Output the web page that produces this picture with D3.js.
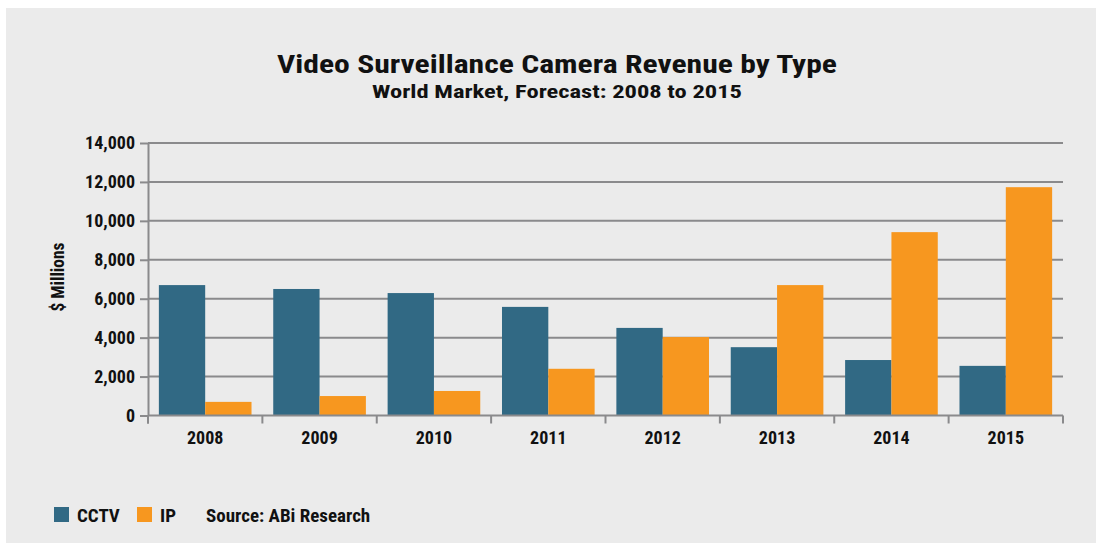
<!DOCTYPE html>
<html>
<head>
<meta charset="utf-8">
<script src="https://cdn.jsdelivr.net/npm/d3@7"></script>
<style>
  html, body { margin: 0; padding: 0; background: #ffffff; }
  svg { display: block; }
  text { font-family: "Liberation Sans Narrow", "Roboto Condensed", "Liberation Sans", Arial, sans-serif; font-weight: bold; fill: #111; }
</style>
</head>
<body>
<svg id="chart" width="1099" height="543"></svg>
<script>
const years = ["2008", "2009", "2010", "2011", "2012", "2013", "2014", "2015"];
const seriesNames = ["CCTV", "IP"];
const cctv = [6700, 6500, 6290, 5580, 4500, 3510, 2850, 2550];
const ip = [700, 1000, 1260, 2400, 4030, 6700, 9420, 11730];
const yTicks = [0, 2000, 4000, 6000, 8000, 10000, 12000, 14000];
const colors = ["#316984", "#f7971f"];

const svg = d3.select("#chart");
svg.append("rect").attr("x", 6).attr("y", 8).attr("width", 1090).attr("height", 535).attr("fill", "#ebebeb");

const pLeft = 148, pRight = 1063, pTop = 143, pBottom = 415.5;
const x = d3.scaleBand().domain(years).range([pLeft, pRight]).paddingInner(0.19).paddingOuter(0.095);
const xs = d3.scaleBand().domain(seriesNames).range([0, x.bandwidth()]);
const y = d3.scaleLinear().domain([0, 14000]).range([pBottom, pTop]);

// gridlines
svg.append("g").selectAll("line").data(yTicks.filter(d => d > 0)).join("line")
  .attr("x1", pLeft).attr("x2", pRight)
  .attr("y1", d => y(d)).attr("y2", d => y(d))
  .attr("stroke", "#8a8a8c").attr("stroke-width", 2);

// bars
const data = years.map((yr, i) => ({ year: yr, vals: [cctv[i], ip[i]] }));
const groups = svg.append("g").selectAll("g").data(data).join("g")
  .attr("transform", d => `translate(${x(d.year)},0)`);
groups.selectAll("rect").data(d => d.vals.map((v, j) => ({ name: seriesNames[j], v, j }))).join("rect")
  .attr("x", d => xs(d.name)).attr("width", xs.bandwidth())
  .attr("y", d => y(d.v)).attr("height", d => y(0) - y(d.v))
  .attr("fill", d => colors[d.j]);

// y axis
const yAxis = d3.axisLeft(y).tickValues(yTicks).tickFormat(d3.format(",")).tickSize(8).tickSizeOuter(0).tickPadding(5);
const gy = svg.append("g").attr("transform", `translate(${pLeft},0)`).call(yAxis);
gy.select(".domain").attr("stroke", "#8a8a8c").attr("stroke-width", 2);
gy.selectAll(".tick line").attr("stroke", "#8a8a8c").attr("stroke-width", 2);
gy.selectAll(".tick text").attr("font-size", 18).attr("fill", "#111")
  .style("font-family", '"Liberation Sans Narrow", "Roboto Condensed", Arial, sans-serif').style("font-weight", "bold");
svg.append("line").attr("x1", pLeft).attr("x2", pLeft).attr("y1", pBottom).attr("y2", pBottom + 8)
  .attr("stroke", "#8a8a8c").attr("stroke-width", 2);

// x axis baseline and ticks
svg.append("line").attr("x1", pLeft).attr("x2", pRight).attr("y1", pBottom).attr("y2", pBottom)
  .attr("stroke", "#8a8a8c").attr("stroke-width", 2);
const bounds = years.map(yr => x(yr) - x.step() * x.paddingInner() / 2).concat([pRight]);
svg.append("g").selectAll("line").data(bounds).join("line")
  .attr("x1", d => d).attr("x2", d => d).attr("y1", pBottom).attr("y2", pBottom + 8)
  .attr("stroke", "#8a8a8c").attr("stroke-width", 2);
svg.append("g").selectAll("text").data(years).join("text")
  .attr("x", d => x(d) + x.bandwidth() / 2).attr("y", 444)
  .attr("text-anchor", "middle").attr("font-size", 18).text(d => d);

// y label
svg.append("text").attr("transform", "translate(64,277) rotate(-90)")
  .attr("text-anchor", "middle").attr("font-size", 17.5).text("$ Millions");

// titles
svg.append("text").attr("x", 557).attr("y", 73).attr("text-anchor", "middle")
  .attr("font-size", 26.5).attr("textLength", 560).attr("lengthAdjust", "spacingAndGlyphs")
  .text("Video Surveillance Camera Revenue by Type");
svg.append("text").attr("x", 557).attr("y", 97.5).attr("text-anchor", "middle")
  .attr("font-size", 19).attr("textLength", 370).attr("lengthAdjust", "spacingAndGlyphs")
  .text("World Market, Forecast: 2008 to 2015");

// legend
const legX = [54, 137];
seriesNames.forEach((n, i) => {
  svg.append("rect").attr("x", legX[i]).attr("y", 507).attr("width", 15).attr("height", 15).attr("fill", colors[i]);
  svg.append("text").attr("x", legX[i] + 23).attr("y", 522).attr("font-size", 19).text(n);
});
svg.append("text").attr("x", 206).attr("y", 522).attr("font-size", 19).text("Source: ABi Research");
</script>
</body>
</html>
